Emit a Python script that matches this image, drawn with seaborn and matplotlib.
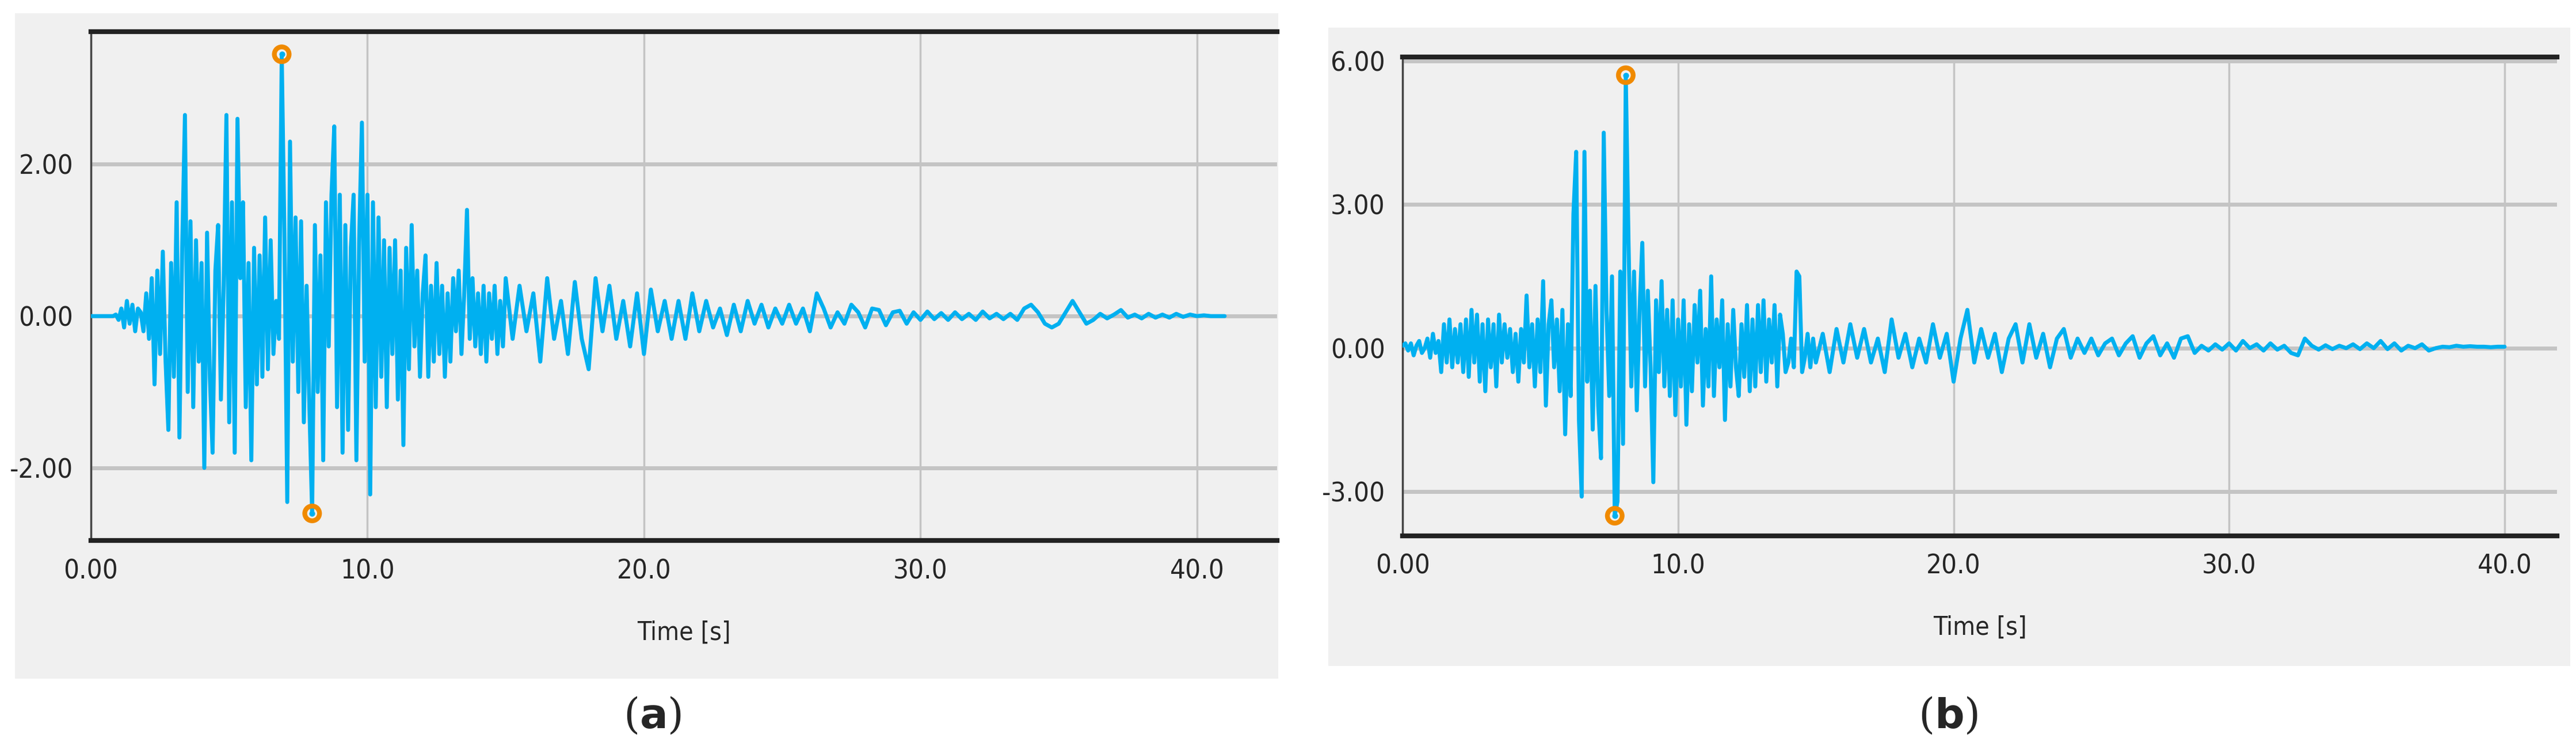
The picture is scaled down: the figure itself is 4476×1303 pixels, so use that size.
import numpy as np
import pandas as pd
import matplotlib
matplotlib.use("Agg")
import matplotlib.pyplot as plt
import seaborn as sns
from matplotlib.patches import Rectangle

sns.set_theme(style="white")
plt.rcParams['font.family'] = ['DejaVu Sans']

# ---------------- data ----------------
a_strong = [0,0,0,0,0,0,0,0,0,0.02,
    -0.05,0.1,-0.15,0.2,-0.1,0.15,-0.2,0.1,0.05,-0.2,
    0.3,-0.3,0.5,-0.9,0.6,-0.5,0.85,-0.6,-1.5,0.7,
    -0.8,1.5,-1.6,0.9,2.65,-1.0,1.25,-1.2,1.0,-0.6,
    0.7,-2.0,1.1,-0.8,-1.8,0.6,1.2,-1.1,0.4,2.65,
    -1.4,1.5,-1.8,2.6,0.5,1.5,-1.2,0.7,-1.9,0.9,
    -0.9,0.8,-0.8,1.3,-0.7,1.0,-0.5,0.2,-0.3,3.45,
    1.0,-2.45,2.3,-0.6,1.3,-1.0,1.25,-1.4,0.4,-1.2,
    -2.6,1.2,-1.0,0.8,-1.9,1.5,-0.4,1.6,2.5,-1.2,
    1.6,-1.8,1.2,-1.5,0.9,1.6,-1.9,1.0,2.55,-0.6,
    1.6,-2.35,1.5,-1.2,1.3,-0.8,1.0,-1.2,0.9,-0.5,
    1.0,-1.1,0.6,-1.7,0.9,-0.7,1.2,-0.4,0.6,-0.8,
    0.3,0.8,-0.8,0.4,-0.6,0.7,-0.5,0.4,-0.8,0.3,
    -0.6,0.5,-0.2,0.6,-0.5,0.3,1.4,-0.3,0.5,-0.4,
    0.3,-0.5,0.4,-0.6,0.3,-0.3,0.4,-0.5,0.2,-0.4,
    0.5]
a_tail = [-0.3,0.4,-0.2,0.3,-0.6,0.5,-0.3,0.2,
    -0.5,0.45,-0.3,-0.7,0.5,-0.2,0.4,-0.3,
    0.2,-0.4,0.3,-0.5,0.35,-0.2,0.2,-0.3,
    0.2,-0.3,0.3,-0.2,0.2,-0.15,0.1,-0.25,
    0.15,-0.2,0.2,-0.1,0.15,-0.15,0.1,-0.1,
    0.15,-0.1,0.1,-0.2,0.3,0.1,-0.15,0.05,
    -0.1,0.15,0.05,-0.15,0.1,0.08,-0.12,0.05,
    0.07,-0.1,0.05,-0.05,0.06,-0.04,0.04,-0.05,
    0.05,-0.04,0.03,-0.05,0.06,-0.03,0.03,-0.04,
    0.03,-0.05,0.1,0.15,0.05,-0.1,-0.15,-0.1,
    0.05,0.2,0.05,-0.1,-0.05,0.03,-0.03,0.02,
    0.08,-0.02,0.02,-0.03,0.03,-0.02,0.02,-0.02,
    0.03,-0.01,0.02,0.0,0.01,0.0,0.0,0.0]

b_strong = [0.05,0.1,-0.05,0.1,-0.15,0.05,0.15,-0.1,0.0,0.2,
    -0.2,0.3,-0.1,0.15,-0.5,0.5,-0.3,0.6,-0.4,0.4,
    -0.3,0.5,-0.5,0.6,-0.6,0.8,-0.3,0.7,-0.7,0.5,
    -0.9,0.6,-0.4,0.5,-0.8,0.7,-0.3,0.5,-0.2,0.4,
    -0.5,0.3,-0.7,0.4,-0.3,1.1,-0.4,0.5,-0.8,0.6,
    -0.5,1.4,-1.2,0.5,1.0,-0.4,0.6,-0.9,0.8,-1.8,
    0.5,-1.0,2.8,4.1,-1.5,-3.1,4.1,-0.7,1.2,-1.7,
    1.3,-1.2,-2.3,4.5,0.8,-1.0,1.5,-3.5,-3.2,1.6,
    -2.0,5.7,2.2,-0.8,1.6,-1.3,0.8,2.2,-0.8,1.2,
    -0.4,-2.8,1.0,-0.5,1.4,-0.8,0.8,-1.0,1.0,-1.4,
    0.6,-0.8,1.0,-1.6,0.5,-0.9,0.9,-0.3,1.2,-1.2,
    0.4,-0.8,1.5,-1.0,0.6,-0.4,1.0,-1.5,0.5,-0.8,
    0.8,-0.4,-1.0,0.5,-0.6,0.9,-0.9,0.6,-0.8,0.9,
    -0.5,1.0,-0.7,0.6,-0.3,0.9,-0.8,0.7,0.3,-0.5,
    -0.3,0.2,-0.4,1.6,1.5,-0.5,-0.2,0.3,-0.4,0.2,
    -0.3]
b_tail = [0.3,-0.5,0.4,-0.3,0.5,-0.2,0.4,-0.3,
    0.2,-0.5,0.6,-0.2,0.3,-0.4,0.2,-0.3,
    0.5,-0.2,0.3,-0.7,0.2,0.8,-0.3,0.4,
    -0.2,0.3,-0.5,0.2,0.5,-0.3,0.5,-0.2,
    0.3,-0.4,0.2,0.4,-0.2,0.2,-0.1,0.2,
    -0.15,0.1,0.2,-0.15,0.1,0.25,-0.2,0.1,
    0.25,-0.15,0.1,-0.2,0.2,0.25,-0.1,0.05,
    -0.05,0.08,-0.03,0.1,-0.05,0.15,0.0,0.08,
    -0.05,0.1,-0.03,0.05,-0.1,-0.15,0.2,0.05,
    -0.03,0.06,-0.02,0.05,0.0,0.08,-0.02,0.1,
    0.0,0.15,-0.02,0.1,-0.05,0.05,0.0,0.08,
    -0.05,0.0,0.03,0.02,0.05,0.03,0.04,0.03,
    0.03,0.02,0.03,0.03]

strong_dt, tail_dt = 0.1, 0.25

def series(strong, tail):
    t1 = np.round(np.arange(len(strong)) * strong_dt, 3)
    t2 = np.round(t1[-1] + tail_dt * (np.arange(len(tail)) + 1), 3)
    return pd.DataFrame({"t": np.concatenate([t1, t2]), "v": np.array(strong + tail, float)})

panels = [
    dict(df=series(a_strong, a_tail), label="a",
         pos=[0.0353, 0.279, 0.4605, 0.679], bg=[0.0058, 0.095, 0.4905, 0.887],
         ylim=(-2.96, 3.75), major=[-2, 0, 2], minor=np.arange(-2, 4, 1), xlim=(0, 42.9), lx=0.2533),
    dict(df=series(b_strong, b_tail), label="b",
         pos=[0.5445, 0.2855, 0.4481, 0.6385], bg=[0.5156, 0.112, 0.4822, 0.851],
         ylim=(-3.92, 6.08), major=[-3, 0, 3, 6], minor=np.arange(-3, 7, 1), xlim=(0, 41.9), lx=0.7562),
]

fig = plt.figure(figsize=(44.76, 13.03), dpi=100)
fig.patch.set_facecolor("white")
line_color = "#00b0f0"
tick_font = dict(family="DejaVu Sans", stretch="condensed", size=34)

for p in panels:
    bgrect = Rectangle((p["bg"][0], p["bg"][1]), p["bg"][2], p["bg"][3],
                       transform=fig.transFigure, facecolor="#f0f0f0", edgecolor="none")
    bgrect.set_zorder(-10)
    fig.add_artist(bgrect)
    ax = fig.add_axes(p["pos"])
    ax.set_zorder(5)
    ax.set_facecolor("#f0f0f0")
    df = p["df"]
    sns.lineplot(data=df, x="t", y="v", ax=ax, color=line_color, lw=5,
                 estimator=None, sort=False, zorder=3)
    imax, imin = df["v"].idxmax(), df["v"].idxmin()
    ax.scatter(df.loc[[imax, imin], "t"], df.loc[[imax, imin], "v"], s=340,
               facecolor="none", edgecolor="#f08a00", linewidth=6, zorder=5)
    ax.scatter(df.loc[[imax, imin], "t"], df.loc[[imax, imin], "v"], s=40,
               color=line_color, zorder=6)
    ax.set_xlim(*p["xlim"])
    ax.set_ylim(*p["ylim"])
    ax.set_xticks([0, 10, 20, 30, 40])
    ax.set_xticklabels(["0.00", "10.0", "20.0", "30.0", "40.0"], fontdict=tick_font)
    ax.set_xticks([5, 15, 25, 35], minor=True)
    ax.set_yticks(p["major"])
    ax.set_yticklabels([f"{v:.2f}" for v in p["major"]], fontdict=tick_font)
    ax.set_yticks(p["minor"], minor=True)
    ax.tick_params(axis="both", which="major", length=10, width=2, color="#555555", pad=12)
    ax.tick_params(axis="both", which="minor", length=8, width=2, color="#555555")
    ax.grid(axis="y", which="major", color="#c4c4c4", lw=5, zorder=1)
    ax.grid(axis="x", which="major", color="#c4c4c4", lw=2.5, zorder=1)
    for s in ["top", "bottom"]:
        ax.spines[s].set_linewidth(6)
        ax.spines[s].set_color("#222222")
    ax.spines["left"].set_linewidth(2.5)
    ax.spines["left"].set_color("#444444")
    ax.spines["right"].set_visible(False)
    ax.set_ylabel("")
    ax.set_xlabel("Time [s]", fontdict=dict(family="DejaVu Sans", stretch="condensed", size=32), labelpad=45)
    fig.text(p["lx"], 0.045, "(" + "$\\mathbf{" + p["label"] + "}$" + ")", ha="center", va="center",
             fontsize=52, family="DejaVu Serif")

fig.savefig("out.png", dpi=100)
